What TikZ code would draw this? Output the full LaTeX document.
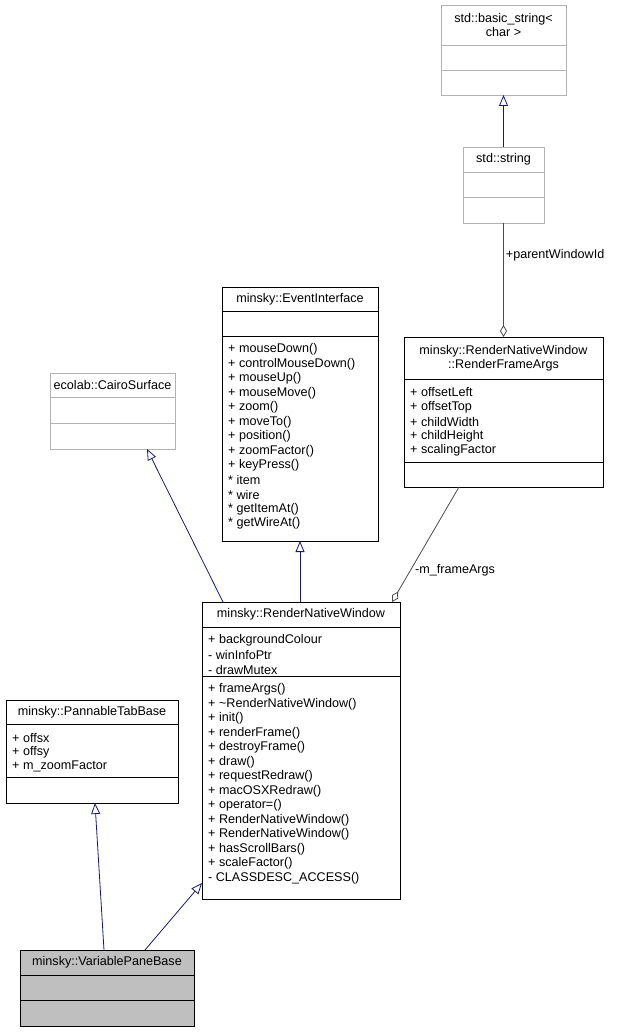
\documentclass[tikz,border=0pt]{standalone}
\usepackage{fontspec}
\setmainfont{Liberation Sans}
\usetikzlibrary{arrows.meta,calc}
\begin{document}
\begin{tikzpicture}[x=1pt,y=-1pt,
  box/.style={draw=black,line width=0.8pt,anchor=north west,inner sep=0pt,outer sep=0pt},
  gbox/.style={box,draw=black!30},
  t/.style={anchor=west,inner sep=0pt,font=\fontsize{12.6}{14}\selectfont},
  tc/.style={anchor=center,inner sep=0pt,align=center,font=\fontsize{12.6}{14}\selectfont},
  inh/.style={draw={rgb,255:red,25;green,25;blue,112},line width=0.8pt,-{Triangle[open,length=11pt,width=9pt]}},
  agg/.style={draw=black!70,line width=0.8pt,-{Diamond[open,length=12pt,width=7pt]}},
  lbl/.style={inner sep=0pt,font=\fontsize{12.6}{14}\selectfont}]
\useasboundingbox (0,0) rectangle (617,1032);
\newcommand\mybox[6]{% style,name,x1,y1,x2,y2
  \node[#1,minimum width=#5pt-#3pt,minimum height=#6pt-#4pt] (#2) at (#3,#4) {};}
% basic_string
\mybox{gbox}{bs}{441}{5}{566}{95}
\draw[black!30,line width=0.8pt] (441,45)--(566,45) (441,70)--(566,70);
\node[tc] at (503.5,25) {std::basic\_string<\\char >};
% string
\mybox{gbox}{str}{463}{147}{544}{223}
\draw[black!30,line width=0.8pt] (463,172)--(544,172) (463,197)--(544,197);
\node[tc] at (503.5,159.5) {std::string};
% EventInterface
\mybox{box}{ei}{222}{287}{378}{541}
\draw[line width=0.8pt] (222,311)--(378,311) (222,336)--(378,336);
\node[tc] at (300,299) {minsky::EventInterface};
\foreach \s [count=\i] in {+ mouseDown(),+ controlMouseDown(),+ mouseUp(),+ mouseMove(),+ zoom(),+ moveTo(),+ position(),+ zoomFactor(),+ keyPress(),* item,* wire,* getItemAt(),* getWireAt()}
  \node[t] at (228,335+14.5*\i) {\s};
% CairoSurface
\mybox{gbox}{cs}{50}{373}{175}{449}
\draw[black!30,line width=0.8pt] (50,397)--(175,397) (50,423)--(175,423);
\node[tc] at (112.5,385) {ecolab::CairoSurface};
% RenderFrameArgs
\mybox{box}{rfa}{404}{337}{603}{487}
\draw[line width=0.8pt] (404,379)--(603,379) (404,462)--(603,462);
\node[tc] at (503.5,358) {minsky::RenderNativeWindow\\::RenderFrameArgs};
\foreach \s [count=\i] in {+ offsetLeft,+ offsetTop,+ childWidth,+ childHeight,+ scalingFactor}
  \node[t] at (410,378+14.5*\i) {\s};
% RenderNativeWindow
\mybox{box}{rnw}{202}{602}{400}{899}
\draw[line width=0.8pt] (202,627)--(400,627) (202,676)--(400,676);
\node[tc] at (301,614.5) {minsky::RenderNativeWindow};
\foreach \s [count=\i] in {+ backgroundColour,- winInfoPtr,- drawMutex}
  \node[t] at (208,626+14.5*\i) {\s};
\foreach \s [count=\i] in {+ frameArgs(),+ \textasciitilde RenderNativeWindow(),+ init(),+ renderFrame(),+ destroyFrame(),+ draw(),+ requestRedraw(),+ macOSXRedraw(),+ operator=(),+ RenderNativeWindow(),+ RenderNativeWindow(),+ hasScrollBars(),+ scaleFactor(),- CLASSDESC\_ACCESS()}
  \node[t] at (208,675+14.5*\i) {\s};
% PannableTabBase
\mybox{box}{ptb}{6}{700}{178}{803}
\draw[line width=0.8pt] (6,724)--(178,724) (6,777)--(178,777);
\node[tc] at (92,712) {minsky::PannableTabBase};
\foreach \s [count=\i] in {+ offsx,+ offsy,+ m\_zoomFactor}
  \node[t] at (12,723+14.5*\i) {\s};
% VariablePaneBase
\node[box,fill=black!25,minimum width=174pt,minimum height=76pt] (vpb) at (20,950) {};
\draw[line width=0.8pt] (20,975)--(194,975) (20,1000)--(194,1000);
\node[tc] at (107,962.5) {minsky::VariablePaneBase};
% edges
\draw[inh] (str.north) -- (bs.south);
\draw[agg] (str.south) -- node[lbl,right=2pt,pos=0.28]{+parentWindowId} (rfa.north);
\draw[inh] ($(rnw.north west)+(21,0)$) -- ($(cs.south west)+(97,0)$);
\draw[inh] ($(rnw.north west)+(98,0)$) -- ($(ei.south west)+(78,0)$);
\draw[agg] ($(rfa.south west)+(55,0)$) -- node[lbl,pos=0.72,right=4pt]{-m\_frameArgs} ($(rnw.north west)+(190,0)$);
\draw[inh] ($(vpb.north west)+(84,0)$) -- ($(ptb.south west)+(89,0)$);
\draw[inh] ($(vpb.north west)+(125,0)$) -- ($(rnw.south west)+(0,-16)$);
\end{tikzpicture}
\end{document}
